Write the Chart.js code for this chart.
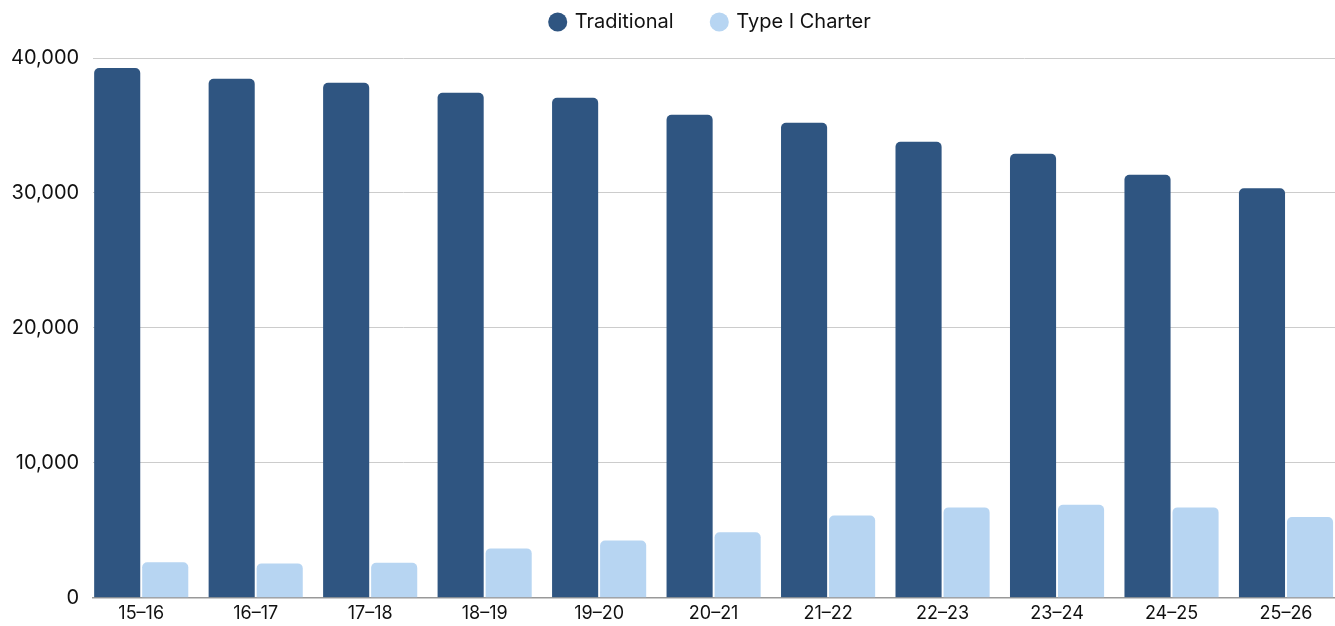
<!DOCTYPE html>
<html>
<head>
<meta charset="utf-8">
<script src="https://cdn.jsdelivr.net/npm/chart.js@4"></script>
<style>
html,body{margin:0;padding:0;background:#fff;}
#wrap{width:1335px;height:626px;position:relative;}
</style>
</head>
<body>
<div id="wrap"><canvas id="c" width="1335" height="626"></canvas></div>
<script>
const categories = ["15–16","16–17","17–18","18–19","19–20","20–21","21–22","22–23","23–24","24–25","25–26"];
const traditional = [39250,38460,38170,37420,37050,35790,35200,33790,32900,31340,30350];
const typeICharter = [2640,2550,2600,3660,4250,4850,6100,6700,6900,6700,5980];
const yTicks = [0,10000,20000,30000,40000];

Chart.defaults.font.family = "Inter, 'Noto Sans', sans-serif";
Chart.defaults.color = "#111";

const legendSpace = {
  id:'legendSpace',
  beforeInit(chart){
    const fit = chart.legend.fit;
    chart.legend.fit = function(){ fit.call(this); this.height += 16; };
  }
};

new Chart(document.getElementById('c'), {
  type: 'bar',
  data: {
    labels: categories,
    datasets: [
      {label:'Traditional', data: traditional, backgroundColor:'#2F5581', borderRadius:{topLeft:5,topRight:5}, borderSkipped:'bottom', barPercentage:0.96, categoryPercentage:0.839},
      {label:'Type I Charter', data: typeICharter, backgroundColor:'#B7D5F2', borderRadius:{topLeft:5,topRight:5}, borderSkipped:'bottom', barPercentage:0.96, categoryPercentage:0.839}
    ]
  },
  options: {
    responsive:false,
    animation:false,
    devicePixelRatio:1,
    layout:{padding:{left:-3,right:0,top:0,bottom:-4}},
    plugins:{
      legend:{
        position:'top',
        fullSize:false,
        labels:{
          usePointStyle:true, pointStyle:'circle', boxWidth:14, boxHeight:13.5, padding:12, font:{size:20}, color:'#111',
          generateLabels:(chart)=>{
            const items = Chart.defaults.plugins.legend.labels.generateLabels(chart);
            items[0].text += '\u2003\u2004';
            items[1].text += '\u2004';
            return items;
          }
        }
      },
      tooltip:{enabled:false}
    },
    scales:{
      x:{
        grid:{display:false, drawTicks:false},
        border:{display:true, color:'#999', width:1.5},
        ticks:{font:{size:18, lineHeight:0.9}, color:'#111', padding:8},
        afterBuildTicks:(ax)=>{ ax._startValue = -0.42; ax._valueRange = categories.length - 0.152; }
      },
      y:{
        min:0, max:40000,
        afterBuildTicks:(ax)=>{ax.ticks = yTicks.map(v=>({value:v}));},
        grid:{color:'#cccccc', drawTicks:false},
        border:{display:false},
        ticks:{font:{size:20}, color:'#111', padding:14, callback:(v)=>v.toLocaleString('en-US')}
      }
    }
  },
  plugins:[legendSpace]
});
</script>
</body>
</html>
